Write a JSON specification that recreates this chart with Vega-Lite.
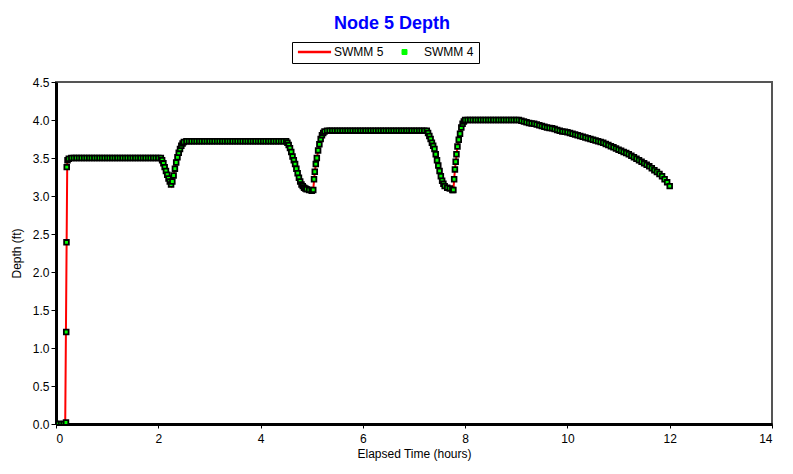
{
  "$schema": "https://vega.github.io/schema/vega-lite/v6.json",
  "width": 716,
  "height": 342,
  "autosize": {"type": "none"},
  "padding": {"left": 56, "top": 82, "right": 21, "bottom": 50},
  "background": "white",
  "config": {
    "view": {"stroke": "#555555", "strokeWidth": 2},
    "font": "Liberation Sans"
  },
  "title": {
    "text": "Node 5 Depth",
    "font": "Liberation Sans",
    "fontSize": 18,
    "fontWeight": "bold",
    "color": "#0000ff",
    "anchor": "middle",
    "frame": "group",
    "dx": -22,
    "offset": 9
  },
  "datasets": {
    "s5": [
      {"t": 0, "d": 0}, {"t": 0.18, "d": 0}, {"t": 0.22, "d": 3.45}, {"t": 0.26, "d": 3.5},
      {"t": 2.05, "d": 3.5}, {"t": 2.1, "d": 3.43}, {"t": 2.15, "d": 3.33}, {"t": 2.2, "d": 3.23},
      {"t": 2.26, "d": 3.14}, {"t": 2.3, "d": 3.27}, {"t": 2.35, "d": 3.44}, {"t": 2.4, "d": 3.57},
      {"t": 2.45, "d": 3.66}, {"t": 2.5, "d": 3.71}, {"t": 2.55, "d": 3.72}, {"t": 4.5, "d": 3.72},
      {"t": 4.55, "d": 3.67}, {"t": 4.6, "d": 3.58}, {"t": 4.65, "d": 3.47}, {"t": 4.7, "d": 3.36},
      {"t": 4.75, "d": 3.24}, {"t": 4.8, "d": 3.15}, {"t": 4.85, "d": 3.11}, {"t": 4.9, "d": 3.09},
      {"t": 5.0, "d": 3.07}, {"t": 5.03, "d": 3.08}, {"t": 5.06, "d": 3.32}, {"t": 5.1, "d": 3.5},
      {"t": 5.15, "d": 3.68}, {"t": 5.2, "d": 3.8}, {"t": 5.25, "d": 3.85}, {"t": 5.3, "d": 3.86},
      {"t": 7.25, "d": 3.86}, {"t": 7.3, "d": 3.79}, {"t": 7.35, "d": 3.7}, {"t": 7.4, "d": 3.62},
      {"t": 7.45, "d": 3.47}, {"t": 7.5, "d": 3.33}, {"t": 7.55, "d": 3.2}, {"t": 7.6, "d": 3.13},
      {"t": 7.7, "d": 3.1}, {"t": 7.77, "d": 3.08}, {"t": 7.8, "d": 3.35}, {"t": 7.85, "d": 3.65},
      {"t": 7.9, "d": 3.82}, {"t": 7.95, "d": 3.95}, {"t": 8.0, "d": 4.0}, {"t": 9.05, "d": 4.0},
      {"t": 9.5, "d": 3.92}, {"t": 10.0, "d": 3.84}, {"t": 10.5, "d": 3.74}, {"t": 11.0, "d": 3.61},
      {"t": 11.5, "d": 3.43}, {"t": 11.8, "d": 3.29}, {"t": 11.9, "d": 3.22}, {"t": 12.0, "d": 3.13}
    ],
    "s4": [
      {"t": 0, "d": 0}, {"t": 0.05, "d": 0}, {"t": 0.1, "d": 0}, {"t": 0.15, "d": 0},
      {"t": 0.195, "d": 0.02}, {"t": 0.2, "d": 1.21}, {"t": 0.205, "d": 2.39}, {"t": 0.21, "d": 3.38},
      {"t": 0.225, "d": 3.47}, {"t": 0.25, "d": 3.49},
      {"t": 0.3, "d": 3.5}, {"t": 0.35, "d": 3.5}, {"t": 0.4, "d": 3.5}, {"t": 0.45, "d": 3.5},
      {"t": 0.5, "d": 3.5}, {"t": 0.55, "d": 3.5}, {"t": 0.6, "d": 3.5}, {"t": 0.65, "d": 3.5},
      {"t": 0.7, "d": 3.5}, {"t": 0.75, "d": 3.5}, {"t": 0.8, "d": 3.5}, {"t": 0.85, "d": 3.5},
      {"t": 0.9, "d": 3.5}, {"t": 0.95, "d": 3.5}, {"t": 1.0, "d": 3.5}, {"t": 1.05, "d": 3.5},
      {"t": 1.1, "d": 3.5}, {"t": 1.15, "d": 3.5}, {"t": 1.2, "d": 3.5}, {"t": 1.25, "d": 3.5},
      {"t": 1.3, "d": 3.5}, {"t": 1.35, "d": 3.5}, {"t": 1.4, "d": 3.5}, {"t": 1.45, "d": 3.5},
      {"t": 1.5, "d": 3.5}, {"t": 1.55, "d": 3.5}, {"t": 1.6, "d": 3.5}, {"t": 1.65, "d": 3.5},
      {"t": 1.7, "d": 3.5}, {"t": 1.75, "d": 3.5}, {"t": 1.8, "d": 3.5}, {"t": 1.85, "d": 3.5},
      {"t": 1.9, "d": 3.5}, {"t": 1.95, "d": 3.5}, {"t": 2.0, "d": 3.5}, {"t": 2.05, "d": 3.5},
      {"t": 2.075, "d": 3.47}, {"t": 2.1, "d": 3.43}, {"t": 2.125, "d": 3.38}, {"t": 2.15, "d": 3.33},
      {"t": 2.175, "d": 3.28}, {"t": 2.2, "d": 3.23}, {"t": 2.225, "d": 3.19}, {"t": 2.25, "d": 3.15},
      {"t": 2.275, "d": 3.19}, {"t": 2.3, "d": 3.27}, {"t": 2.325, "d": 3.36}, {"t": 2.35, "d": 3.44},
      {"t": 2.375, "d": 3.51}, {"t": 2.4, "d": 3.57}, {"t": 2.425, "d": 3.62}, {"t": 2.45, "d": 3.66},
      {"t": 2.475, "d": 3.69}, {"t": 2.5, "d": 3.71},
      {"t": 2.55, "d": 3.72}, {"t": 2.6, "d": 3.72}, {"t": 2.65, "d": 3.72}, {"t": 2.7, "d": 3.72},
      {"t": 2.75, "d": 3.72}, {"t": 2.8, "d": 3.72}, {"t": 2.85, "d": 3.72}, {"t": 2.9, "d": 3.72},
      {"t": 2.95, "d": 3.72}, {"t": 3.0, "d": 3.72}, {"t": 3.05, "d": 3.72}, {"t": 3.1, "d": 3.72},
      {"t": 3.15, "d": 3.72}, {"t": 3.2, "d": 3.72}, {"t": 3.25, "d": 3.72}, {"t": 3.3, "d": 3.72},
      {"t": 3.35, "d": 3.72}, {"t": 3.4, "d": 3.72}, {"t": 3.45, "d": 3.72}, {"t": 3.5, "d": 3.72},
      {"t": 3.55, "d": 3.72}, {"t": 3.6, "d": 3.72}, {"t": 3.65, "d": 3.72}, {"t": 3.7, "d": 3.72},
      {"t": 3.75, "d": 3.72}, {"t": 3.8, "d": 3.72}, {"t": 3.85, "d": 3.72}, {"t": 3.9, "d": 3.72},
      {"t": 3.95, "d": 3.72}, {"t": 4.0, "d": 3.72}, {"t": 4.05, "d": 3.72}, {"t": 4.1, "d": 3.72},
      {"t": 4.15, "d": 3.72}, {"t": 4.2, "d": 3.72}, {"t": 4.25, "d": 3.72}, {"t": 4.3, "d": 3.72},
      {"t": 4.35, "d": 3.72}, {"t": 4.4, "d": 3.72}, {"t": 4.45, "d": 3.72}, {"t": 4.5, "d": 3.72},
      {"t": 4.525, "d": 3.7}, {"t": 4.55, "d": 3.67}, {"t": 4.575, "d": 3.63}, {"t": 4.6, "d": 3.58},
      {"t": 4.625, "d": 3.52}, {"t": 4.65, "d": 3.47}, {"t": 4.675, "d": 3.42}, {"t": 4.7, "d": 3.36},
      {"t": 4.725, "d": 3.3}, {"t": 4.75, "d": 3.24}, {"t": 4.775, "d": 3.19}, {"t": 4.8, "d": 3.15},
      {"t": 4.825, "d": 3.13}, {"t": 4.85, "d": 3.11}, {"t": 4.875, "d": 3.1}, {"t": 4.9, "d": 3.09},
      {"t": 4.95, "d": 3.08}, {"t": 5.0, "d": 3.07}, {"t": 5.03, "d": 3.08}, {"t": 5.045, "d": 3.22},
      {"t": 5.06, "d": 3.32}, {"t": 5.08, "d": 3.42}, {"t": 5.1, "d": 3.5}, {"t": 5.125, "d": 3.6},
      {"t": 5.15, "d": 3.68}, {"t": 5.175, "d": 3.75}, {"t": 5.2, "d": 3.8}, {"t": 5.225, "d": 3.83},
      {"t": 5.25, "d": 3.85},
      {"t": 5.3, "d": 3.86}, {"t": 5.35, "d": 3.86}, {"t": 5.4, "d": 3.86}, {"t": 5.45, "d": 3.86},
      {"t": 5.5, "d": 3.86}, {"t": 5.55, "d": 3.86}, {"t": 5.6, "d": 3.86}, {"t": 5.65, "d": 3.86},
      {"t": 5.7, "d": 3.86}, {"t": 5.75, "d": 3.86}, {"t": 5.8, "d": 3.86}, {"t": 5.85, "d": 3.86},
      {"t": 5.9, "d": 3.86}, {"t": 5.95, "d": 3.86}, {"t": 6.0, "d": 3.86}, {"t": 6.05, "d": 3.86},
      {"t": 6.1, "d": 3.86}, {"t": 6.15, "d": 3.86}, {"t": 6.2, "d": 3.86}, {"t": 6.25, "d": 3.86},
      {"t": 6.3, "d": 3.86}, {"t": 6.35, "d": 3.86}, {"t": 6.4, "d": 3.86}, {"t": 6.45, "d": 3.86},
      {"t": 6.5, "d": 3.86}, {"t": 6.55, "d": 3.86}, {"t": 6.6, "d": 3.86}, {"t": 6.65, "d": 3.86},
      {"t": 6.7, "d": 3.86}, {"t": 6.75, "d": 3.86}, {"t": 6.8, "d": 3.86}, {"t": 6.85, "d": 3.86},
      {"t": 6.9, "d": 3.86}, {"t": 6.95, "d": 3.86}, {"t": 7.0, "d": 3.86}, {"t": 7.05, "d": 3.86},
      {"t": 7.1, "d": 3.86}, {"t": 7.15, "d": 3.86}, {"t": 7.2, "d": 3.86}, {"t": 7.25, "d": 3.86},
      {"t": 7.275, "d": 3.83}, {"t": 7.3, "d": 3.79}, {"t": 7.325, "d": 3.75}, {"t": 7.35, "d": 3.7},
      {"t": 7.375, "d": 3.66}, {"t": 7.4, "d": 3.62}, {"t": 7.425, "d": 3.55}, {"t": 7.45, "d": 3.47},
      {"t": 7.475, "d": 3.4}, {"t": 7.5, "d": 3.33}, {"t": 7.525, "d": 3.26}, {"t": 7.55, "d": 3.2},
      {"t": 7.575, "d": 3.16}, {"t": 7.6, "d": 3.13}, {"t": 7.65, "d": 3.11}, {"t": 7.7, "d": 3.1},
      {"t": 7.75, "d": 3.08}, {"t": 7.77, "d": 3.08}, {"t": 7.785, "d": 3.22}, {"t": 7.8, "d": 3.35},
      {"t": 7.815, "d": 3.45}, {"t": 7.83, "d": 3.55}, {"t": 7.85, "d": 3.65}, {"t": 7.875, "d": 3.74},
      {"t": 7.9, "d": 3.82}, {"t": 7.925, "d": 3.9}, {"t": 7.95, "d": 3.95}, {"t": 7.975, "d": 3.98},
      {"t": 8.0, "d": 4.0}, {"t": 8.05, "d": 4.0}, {"t": 8.1, "d": 4.0}, {"t": 8.15, "d": 4.0},
      {"t": 8.2, "d": 4.0}, {"t": 8.25, "d": 4.0}, {"t": 8.3, "d": 4.0}, {"t": 8.35, "d": 4.0},
      {"t": 8.4, "d": 4.0}, {"t": 8.45, "d": 4.0}, {"t": 8.5, "d": 4.0}, {"t": 8.55, "d": 4.0},
      {"t": 8.6, "d": 4.0}, {"t": 8.65, "d": 4.0}, {"t": 8.7, "d": 4.0}, {"t": 8.75, "d": 4.0},
      {"t": 8.8, "d": 4.0}, {"t": 8.85, "d": 4.0}, {"t": 8.9, "d": 4.0}, {"t": 8.95, "d": 4.0},
      {"t": 9.0, "d": 4.0}, {"t": 9.05, "d": 4.0},
      {"t": 9.1, "d": 3.99}, {"t": 9.15, "d": 3.98}, {"t": 9.2, "d": 3.97}, {"t": 9.25, "d": 3.96},
      {"t": 9.3, "d": 3.955}, {"t": 9.35, "d": 3.95}, {"t": 9.4, "d": 3.94}, {"t": 9.45, "d": 3.93},
      {"t": 9.5, "d": 3.92}, {"t": 9.55, "d": 3.91}, {"t": 9.6, "d": 3.9}, {"t": 9.65, "d": 3.895},
      {"t": 9.7, "d": 3.89}, {"t": 9.75, "d": 3.88}, {"t": 9.8, "d": 3.87}, {"t": 9.85, "d": 3.86},
      {"t": 9.9, "d": 3.85}, {"t": 9.95, "d": 3.845}, {"t": 10.0, "d": 3.84}, {"t": 10.05, "d": 3.83},
      {"t": 10.1, "d": 3.82}, {"t": 10.15, "d": 3.81}, {"t": 10.2, "d": 3.8}, {"t": 10.25, "d": 3.79},
      {"t": 10.3, "d": 3.78}, {"t": 10.35, "d": 3.77}, {"t": 10.4, "d": 3.76}, {"t": 10.45, "d": 3.75},
      {"t": 10.5, "d": 3.74}, {"t": 10.55, "d": 3.73}, {"t": 10.6, "d": 3.72}, {"t": 10.65, "d": 3.71},
      {"t": 10.7, "d": 3.7}, {"t": 10.75, "d": 3.685}, {"t": 10.8, "d": 3.67}, {"t": 10.85, "d": 3.655},
      {"t": 10.9, "d": 3.64}, {"t": 10.95, "d": 3.625}, {"t": 11.0, "d": 3.61}, {"t": 11.05, "d": 3.595},
      {"t": 11.1, "d": 3.58}, {"t": 11.15, "d": 3.565}, {"t": 11.2, "d": 3.55}, {"t": 11.25, "d": 3.53},
      {"t": 11.3, "d": 3.51}, {"t": 11.35, "d": 3.49}, {"t": 11.4, "d": 3.47}, {"t": 11.45, "d": 3.45},
      {"t": 11.5, "d": 3.43}, {"t": 11.55, "d": 3.41}, {"t": 11.6, "d": 3.39}, {"t": 11.65, "d": 3.365},
      {"t": 11.7, "d": 3.34}, {"t": 11.75, "d": 3.315}, {"t": 11.8, "d": 3.29}, {"t": 11.85, "d": 3.26},
      {"t": 11.9, "d": 3.22}, {"t": 11.95, "d": 3.18}, {"t": 12.0, "d": 3.13}
    ]
  },
  "encoding": {
    "x": {
      "field": "t", "type": "quantitative",
      "scale": {"domain": [0, 14], "nice": false, "zero": false},
      "axis": {
        "title": "Elapsed Time (hours)",
        "values": [0, 2, 4, 6, 8, 10, 12, 14],
        "grid": false,
        "domainColor": "black", "domainWidth": 3,
        "tickColor": "black", "tickSize": 4, "tickWidth": 1,
        "labelFont": "Liberation Sans", "labelFontSize": 12, "labelColor": "black", "labelPadding": 5,
        "titleFont": "Liberation Sans", "titleFontSize": 12, "titleFontWeight": "normal", "titleColor": "black", "titlePadding": 4
      }
    },
    "y": {
      "field": "d", "type": "quantitative",
      "scale": {"domain": [0, 4.5], "nice": false},
      "axis": {
        "title": "Depth (ft)",
        "values": [0, 0.5, 1, 1.5, 2, 2.5, 3, 3.5, 4, 4.5],
        "format": ".1f",
        "grid": false,
        "domainColor": "black", "domainWidth": 3,
        "tickColor": "black", "tickSize": 5, "tickWidth": 1,
        "labelFont": "Liberation Sans", "labelFontSize": 12, "labelColor": "black", "labelPadding": 2,
        "titleFont": "Liberation Sans", "titleFontSize": 12, "titleFontWeight": "normal", "titleColor": "black", "titlePadding": 9
      }
    }
  },
  "layer": [
    {
      "data": {"name": "s5"},
      "mark": {"type": "line", "strokeWidth": 2, "clip": true},
      "encoding": {
        "color": {
          "datum": "SWMM 5",
          "type": "nominal",
          "scale": {"domain": ["SWMM 5", "SWMM 4"], "range": ["#ff0000", "#00ff00"]},
          "legend": {
            "title": null,
            "orient": "none",
            "legendX": 236,
            "legendY": -40,
            "direction": "horizontal",
            "columns": 2,
            "strokeColor": "black",
            "fillColor": "white",
            "padding": 5,
            "symbolSize": 1100,
            "clipHeight": 10,
            "symbolOffset": 0,
            "symbolStrokeWidth": 2,
            "columnPadding": 3,
            "labelOffset": 2,
            "labelFont": "Liberation Sans",
            "labelFontSize": 12,
            "labelColor": "black",
            "encode": {
              "symbols": {
                "update": {
                  "size": {"value": 1100},
                  "shape": {"signal": "(datum.value === 'SWMM 5' ? 'stroke' : 'M-0.15,-0.15H0.15V0.15H-0.15Z')"},
                  "stroke": {"signal": "(datum.value === 'SWMM 5' ? '#ff0000' : '#000000')"},
                  "fill": {"signal": "(datum.value === 'SWMM 5' ? 'transparent' : '#00ff00')"},
                  "strokeWidth": {"signal": "(datum.value === 'SWMM 5' ? 2.5 : 1)"},
                  "opacity": {"value": 1}
                }
              }
            }
          }
        }
      }
    },
    {
      "data": {"name": "s4"},
      "mark": {"type": "point", "shape": "square", "filled": true, "size": 22, "stroke": "black", "strokeWidth": 1.8, "opacity": 1, "clip": true},
      "encoding": {
        "color": {"datum": "SWMM 4", "type": "nominal"}
      }
    }
  ]
}
